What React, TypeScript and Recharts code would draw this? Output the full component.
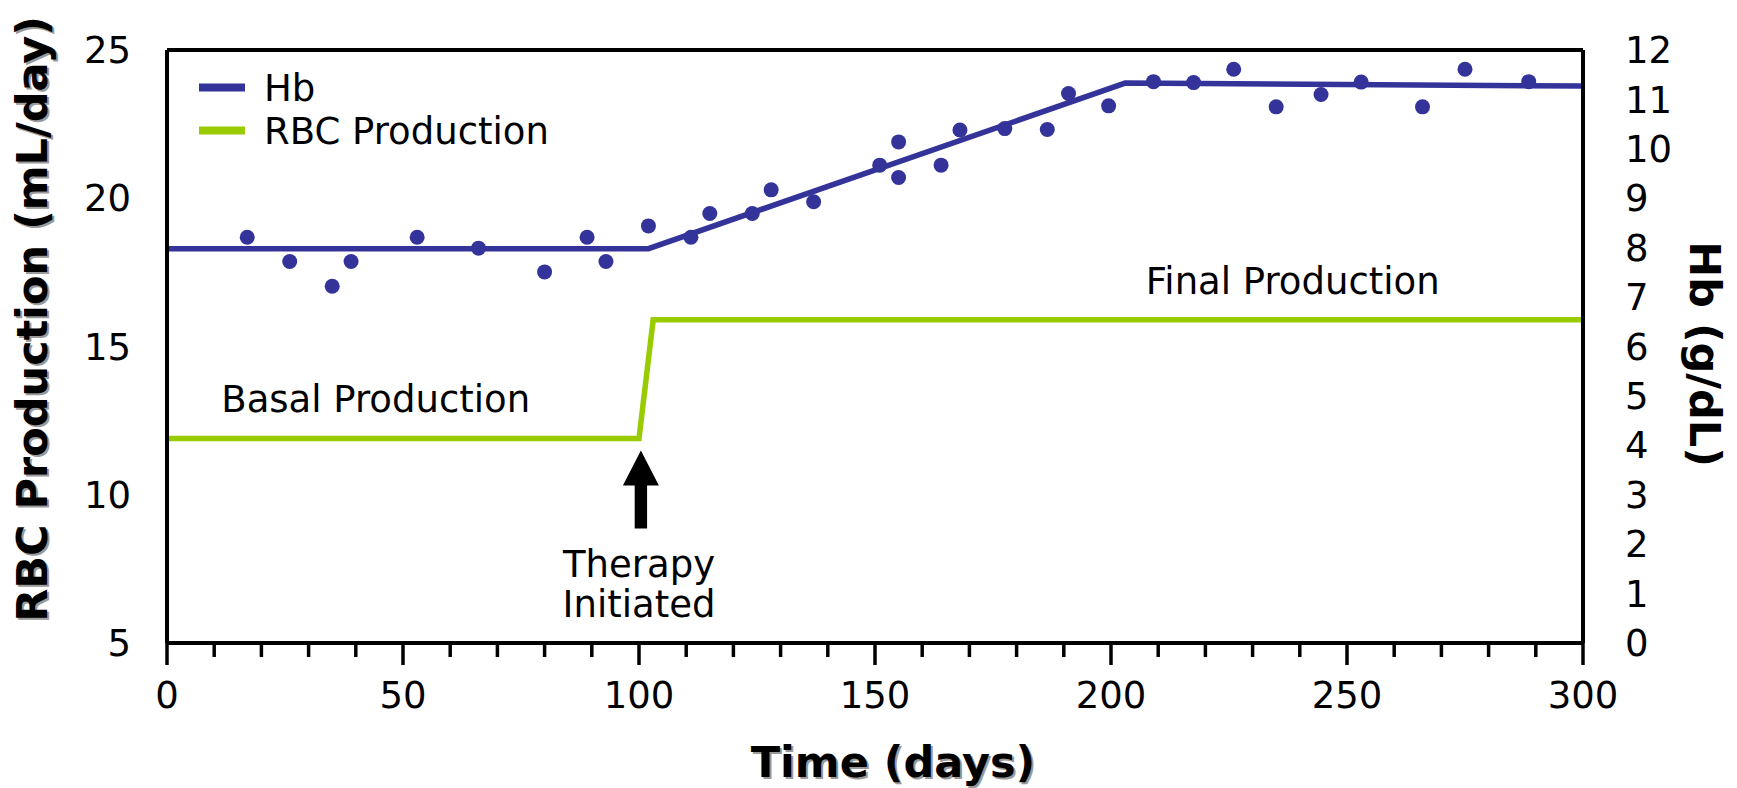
import React from 'react';
import {
    ComposedChart,
    Line,
    Scatter,
    XAxis,
    YAxis,
    ReferenceLine,
    ReferenceDot,
    Customized,
} from 'recharts';

// measured Hb values (g/dL) by day
const hbDays = [17, 26, 35, 39, 53, 66, 80, 89, 93, 102, 111, 115, 124, 128, 137, 151, 155, 155, 164, 168, 177.5, 186.5, 191, 199.5, 209, 217.5, 226, 235, 244.5, 253, 266, 275, 288.5];
const hbValues = [8.21, 7.72, 7.22, 7.72, 8.21, 7.99, 7.51, 8.21, 7.72, 8.44, 8.21, 8.69, 8.69, 9.17, 8.93, 9.67, 10.14, 9.42, 9.67, 10.38, 10.41, 10.39, 11.12, 10.87, 11.36, 11.34, 11.61, 10.85, 11.1, 11.35, 10.85, 11.61, 11.36];

// fitted Hb trend
const fitDays = [0, 102, 203, 300];
const fitHb = [7.98, 7.98, 11.33, 11.27];

// RBC production (mL/day)
const rbcDays = [0, 100, 103, 300];
const rbcValues = [11.9, 11.9, 15.9, 15.9];

const xTicks = [0, 10, 20, 30, 40, 50, 60, 70, 80, 90, 100, 110, 120, 130, 140, 150, 160, 170, 180, 190, 200, 210, 220, 230, 240, 250, 260, 270, 280, 290, 300];
const rbcTicks = [5, 10, 15, 20, 25];
const hbTicks = [0, 1, 2, 3, 4, 5, 6, 7, 8, 9, 10, 11, 12];

const legendItems = [
    { name: 'Hb', color: '#333399' },
    { name: 'RBC Production', color: '#99CC00' },
];

const HB_COLOR = '#333399';
const RBC_COLOR = '#99CC00';
const FONT = '"DejaVu Sans", Verdana, sans-serif';
const TEXT_SIZE = 37;

const hbPoints = hbDays.map((d, i) => ({ day: d, hb: hbValues[i] }));
const fitData = fitDays.map((d, i) => ({ day: d, hb: fitHb[i] }));
const rbcData = rbcDays.map((d, i) => ({ day: d, rbc: rbcValues[i] }));

const XTick = (props: any) => {
    const { x, y, payload } = props;
    const major = payload.value % 50 === 0;
    return (
        <g>
            <line x1={x} x2={x} y1={y} y2={y + (major ? 22 : 14)} stroke="#000" strokeWidth={3.5} />
            {major && (
                <text x={x} y={y + 65} textAnchor="middle" fontSize={TEXT_SIZE} fontFamily={FONT} fill="#000">
                    {payload.value}
                </text>
            )}
        </g>
    );
};

const Dot = (props: any) => <circle cx={props.cx} cy={props.cy} r={7.5} fill={HB_COLOR} />;

const textShape = (text: string, anchor: string) => (props: any) => (
    <text x={props.cx} y={props.cy} textAnchor={anchor} fontSize={TEXT_SIZE} fontFamily={FONT} fill="#000">
        {text}
    </text>
);

const Arrow = (props: any) => {
    const { cx, cy } = props;
    const pts = [
        [cx, cy],
        [cx + 18, cy + 35],
        [cx + 6.2, cy + 35],
        [cx + 6.2, cy + 78],
        [cx - 6.2, cy + 78],
        [cx - 6.2, cy + 35],
        [cx - 18, cy + 35],
    ].map(p => p.join(',')).join(' ');
    return <polygon points={pts} fill="#000" />;
};

const Titles = () => (
    <g fontFamily={FONT} fontWeight="bold" fontSize={43}>
        {/* left title with drop shadow */}
        <text transform="translate(49,321) rotate(-90)" textAnchor="middle" fill="#9a9a9a">RBC Production (mL/day)</text>
        <text transform="translate(47,319) rotate(-90)" textAnchor="middle" fill="#000">RBC Production (mL/day)</text>
        {/* right title */}
        <text transform="translate(1690,354) rotate(90)" textAnchor="middle" fill="#000">Hb (g/dL)</text>
        {/* bottom title */}
        <text x={895} y={779} textAnchor="middle" fill="#9a9a9a">Time (days)</text>
        <text x={893} y={777} textAnchor="middle" fill="#000">Time (days)</text>
        {/* legend */}
        {legendItems.map((item, i) => (
            <g key={item.name}>
                <line x1={199} x2={245} y1={87.5 + i * 43} y2={87.5 + i * 43} stroke={item.color} strokeWidth={8} />
                <text x={264} y={87.5 + i * 43} dy="0.36em" fontSize={TEXT_SIZE} fontWeight="normal" fill="#000">{item.name}</text>
            </g>
        ))}
    </g>
);

const App: React.FC = () => {
    return (
        <div style={{ position: 'absolute', left: 0, top: 0 }}>
            <ComposedChart width={1737} height={788} margin={{ top: 50, right: 0, bottom: 0, left: 0 }}>
                <XAxis
                    type="number"
                    dataKey="day"
                    domain={[0, 300]}
                    ticks={xTicks}
                    interval={0}
                    height={145}
                    axisLine={{ stroke: '#000', strokeWidth: 4 }}
                    tickLine={false}
                    tickSize={0}
                    tickMargin={0}
                    tick={<XTick />}
                />
                <YAxis
                    yAxisId="rbc"
                    type="number"
                    domain={[5, 25]}
                    ticks={rbcTicks}
                    interval={0}
                    width={167}
                    axisLine={{ stroke: '#000', strokeWidth: 4 }}
                    tickLine={false}
                    tickSize={0}
                    tickMargin={36}
                    tick={{ fontSize: TEXT_SIZE, fill: '#000', fontFamily: FONT }}
                />
                <YAxis
                    yAxisId="hb"
                    orientation="right"
                    type="number"
                    domain={[0, 12]}
                    ticks={hbTicks}
                    interval={0}
                    width={154}
                    axisLine={{ stroke: '#000', strokeWidth: 4 }}
                    tickLine={false}
                    tickSize={0}
                    tickMargin={42}
                    tick={{ fontSize: TEXT_SIZE, fill: '#000', fontFamily: FONT }}
                />
                <ReferenceLine yAxisId="rbc" y={25} stroke="#000" strokeWidth={4} />
                <Line
                    yAxisId="rbc"
                    data={rbcData}
                    dataKey="rbc"
                    type="linear"
                    stroke={RBC_COLOR}
                    strokeWidth={5.5}
                    dot={false}
                    isAnimationActive={false}
                />
                <Line
                    yAxisId="hb"
                    data={fitData}
                    dataKey="hb"
                    type="linear"
                    stroke={HB_COLOR}
                    strokeWidth={5.5}
                    dot={false}
                    isAnimationActive={false}
                />
                <Scatter yAxisId="hb" data={hbPoints} dataKey="hb" shape={<Dot />} isAnimationActive={false} />
                <ReferenceDot yAxisId="rbc" x={100.4} y={11.49} shape={<Arrow />} />
                <ReferenceDot yAxisId="rbc" x={11.5} y={12.8} shape={textShape('Basal Production', 'start')} />
                <ReferenceDot yAxisId="rbc" x={238.5} y={16.77} shape={textShape('Final Production', 'middle')} />
                <ReferenceDot yAxisId="rbc" x={100} y={7.24} shape={textShape('Therapy', 'middle')} />
                <ReferenceDot yAxisId="rbc" x={100} y={5.89} shape={textShape('Initiated', 'middle')} />
                <Customized component={Titles} />
            </ComposedChart>
        </div>
    );
};

export default App;
